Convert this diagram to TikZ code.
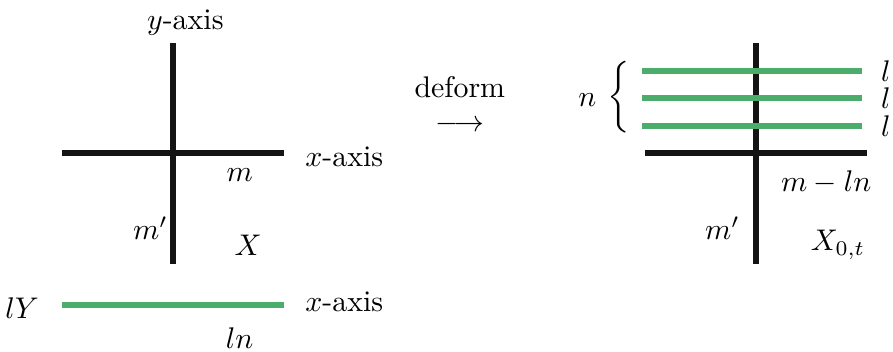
\documentclass[tikz,border=0pt]{standalone}
\definecolor{axisblack}{RGB}{20, 20, 20}
\definecolor{curvegreen}{RGB}{74, 174, 106}
\usepackage{tikz}
\usepackage{amsmath}
\usetikzlibrary{positioning, calc}

\begin{document}
\begin{tikzpicture}[axis/.style={draw=axisblack, line width=2pt},
                    curve/.style={draw=curvegreen, line width=2pt}]
                    \useasboundingbox (0, 0) rectangle (10.506, 4.141);
                    
                    % Surface X
                    \coordinate (xl) at (0.729, 2.341);
                    \coordinate (xr) at (3.341, 2.341);
                    \coordinate (yt) at (2.035, 3.635);
                    \coordinate (yb) at (2.035, 1.035);
                    \draw[axis] (xl) -- (xr);
                    \draw[axis] (yt) -- (yb);
                    \node (ylab) at (2.18, 3.88) {$y$-axis};
                    \node (xlab) at (4.05, 2.29) {$x$-axis};
                    \node (mlab) at (2.82, 2.08) {$m$};
                    \node (mplab) at (1.77, 1.46) {$m'$};
                    \node (Xlab) at (2.92, 1.26) {$X$};
                    
                    % Curve lY
                    \coordinate (cl) at (0.729, 0.553);
                    \coordinate (cr) at (3.341, 0.553);
                    \draw[curve] (cl) -- (cr);
                    \node (lYlab) at (0.26, 0.52) {$lY$};
                    \node (xlab2) at (4.05, 0.59) {$x$-axis};
                    \node (lnlab) at (2.82, 0.165) {$ln$};
                    
                    % Deformation
                    \node (deform) at (5.41, 3.11) {deform};
                    \node (arrow) at (5.41, 2.66) {$\longrightarrow$};
                    
                    % Surface X_{0,t}
                    \coordinate (Xl) at (7.588, 2.341);
                    \coordinate (Xr) at (10.2, 2.341);
                    \coordinate (Yt) at (8.894, 3.635);
                    \coordinate (Yb) at (8.894, 1.035);
                    \draw[axis] (Xl) -- (Xr);
                    \draw[axis] (Yt) -- (Yb);
                    \foreach \yy [count=\i] in {3.306, 2.988, 2.659} {
                        \coordinate (g\i l) at (7.553, \yy);
                        \coordinate (g\i r) at (10.141, \yy);
                        \draw[curve] (g\i l) -- (g\i r);
                        \node[anchor=west, inner sep=0pt] (l\i) at (10.36, \yy) {$l$};
                    }
                    \node[inner sep=0pt] (brace) at (7.30, 2.985)
                        {$\left\{\vrule width 0pt height 0.37cm depth 0.37cm\right.$};
                    \node (nlab) at (6.91, 2.96) {$n$};
                    \node (mlnlab) at (9.72, 1.99) {$m-ln$};
                    \node (mplab2) at (8.50, 1.46) {$m'$};
                    \node (X0tlab) at (9.86, 1.26) {$X_{0,t}$};
                \end{tikzpicture}
\end{document}
